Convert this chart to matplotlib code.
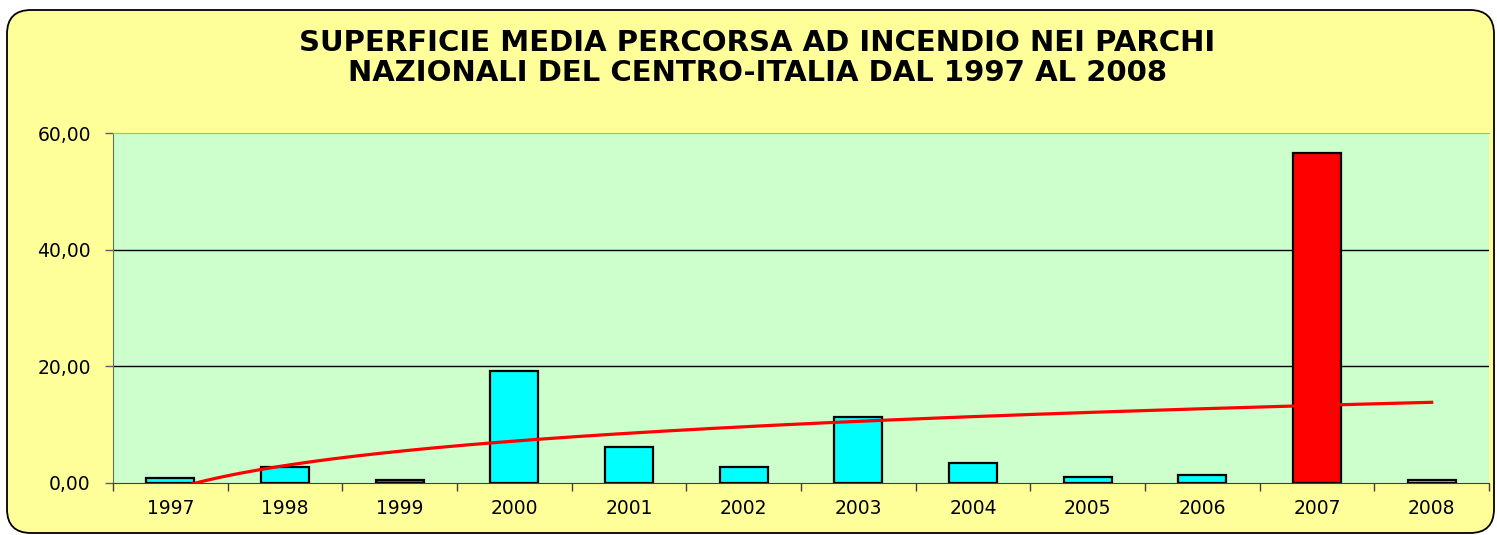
import matplotlib
matplotlib.use("Agg")
import matplotlib.pyplot as plt
import numpy as np
from matplotlib.patches import FancyBboxPatch
from matplotlib.ticker import FuncFormatter

# dati
anni = ['1997', '1998', '1999', '2000', '2001', '2002', '2003', '2004', '2005', '2006', '2007', '2008']
superficie = [0.9, 2.7, 0.6, 19.2, 6.2, 2.7, 11.3, 3.4, 1.0, 1.3, 56.6, 0.6]
colori = ['#00FFFF', '#00FFFF', '#3366FF', '#00FFFF', '#00FFFF', '#00FFFF',
          '#00FFFF', '#00FFFF', '#00FFFF', '#00FFFF', '#FF0000', '#00FFFF']
titolo = "SUPERFICIE MEDIA PERCORSA AD INCENDIO NEI PARCHI\nNAZIONALI DEL CENTRO-ITALIA DAL 1997 AL 2008"

plt.rcParams['font.family'] = ['DejaVu Sans']

W, H = 1497, 535
fig = plt.figure(figsize=(W / 100, H / 100), dpi=100)
fig.patch.set_facecolor('white')

# cornice arrotondata gialla (coordinate in pollici)
bg = FancyBboxPatch((0.07, 0.02), (W - 10) / 100, (H - 12) / 100,
                    boxstyle="round,pad=0,rounding_size=0.24",
                    transform=fig.dpi_scale_trans, facecolor='#FFFF99',
                    edgecolor='black', linewidth=1.3, zorder=-5)
fig.patches.append(bg)

ax = fig.add_axes([113 / W, 52 / H, (1489 - 113) / W, (483 - 133) / H])
ax.set_facecolor('#CCFFCC')

x = np.arange(len(anni))
ax.bar(x, superficie, width=0.42, color=colori, edgecolor='black', linewidth=1.6, zorder=3)

# linea di tendenza logaritmica (come in Excel)
xi = np.arange(1, len(anni) + 1)
a, b = np.polyfit(np.log(xi), superficie, 1)
xs = np.linspace(1, len(anni), 300)
ax.plot(xs - 1, a * np.log(xs) + b, color='#FF0000', linewidth=2.3, zorder=4)

ax.set_xlim(-0.5, len(anni) - 0.5)
ax.set_ylim(0, 60)
ax.set_yticks([0, 20, 40, 60])
ax.yaxis.set_major_formatter(FuncFormatter(lambda v, p: f"{v:.2f}".replace('.', ',')))
for yv in [20, 40]:
    ax.axhline(yv, color='black', linewidth=1, zorder=1)

ax.set_xticks(x)
ax.set_xticklabels(anni)
ax.set_xticks(np.arange(-0.5, len(anni)), minor=True)
ax.tick_params(axis='x', which='major', length=0, pad=11.5, labelsize=13.5)
ax.tick_params(axis='x', which='minor', length=6, width=1, color='#404040')
ax.tick_params(axis='y', length=6, width=1, color='#606060', pad=10, labelsize=13.5)

ax.spines['right'].set_visible(False)
ax.spines['top'].set_color('#99BB99')
ax.spines['left'].set_color('#607060')
ax.spines['bottom'].set_color('#404040')
ax.spines['bottom'].set_zorder(5)

fig.text(757 / W, 1 - 58 / H, titolo, ha='center', va='center', fontsize=21,
         fontweight='bold', linespacing=1.1)

fig.savefig('out.png', dpi=100, facecolor=fig.get_facecolor())
